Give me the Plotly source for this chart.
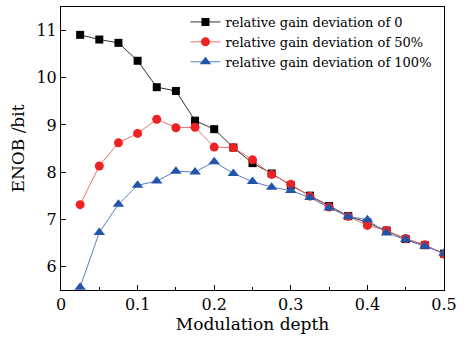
import plotly.graph_objects as go

x = [0.025, 0.05, 0.075, 0.1, 0.125, 0.15, 0.175, 0.2, 0.225, 0.25,
     0.275, 0.3, 0.325, 0.35, 0.375, 0.4, 0.425, 0.45, 0.475, 0.5]
gain0 = [10.91, 10.81, 10.74, 10.36, 9.80, 9.72, 9.09, 8.91, 8.52, 8.19,
         7.97, 7.72, 7.50, 7.28, 7.07, 6.93, 6.76, 6.58, 6.45, 6.27]
gain50 = [7.31, 8.13, 8.62, 8.82, 9.12, 8.94, 8.95, 8.53, 8.52, 8.26,
          7.95, 7.74, 7.49, 7.26, 7.06, 6.87, 6.76, 6.59, 6.46, 6.26]
gain100 = [5.56, 6.72, 7.32, 7.72, 7.81, 8.02, 8.00, 8.22, 7.97, 7.80,
           7.68, 7.61, 7.46, 7.24, 7.06, 6.99, 6.71, 6.57, 6.43, 6.28]
names = ["relative gain deviation of 0", "relative gain deviation of 50%",
         "relative gain deviation of 100%"]

font = "DejaVu Serif, serif"
fig = go.Figure()
fig.add_trace(go.Scatter(x=x, y=gain0, name=names[0], mode="lines+markers",
                         line=dict(color="#333333", width=1),
                         marker=dict(symbol="square", size=8, color="#000000")))
fig.add_trace(go.Scatter(x=x, y=gain50, name=names[1], mode="lines+markers",
                         line=dict(color="#f07070", width=1),
                         marker=dict(symbol="circle", size=9, color="#ee2222")))
fig.add_trace(go.Scatter(x=x, y=gain100, name=names[2], mode="lines+markers",
                         line=dict(color="#5b80c8", width=1),
                         marker=dict(symbol="triangle-up", size=10, color="#2255aa")))

fig.update_layout(
    width=472, height=342,
    margin=dict(l=61, r=28, t=7, b=52),
    paper_bgcolor="white", plot_bgcolor="white",
    font=dict(family=font, color="black", size=16),
    legend=dict(x=0.325, y=1.0, xanchor="left", yanchor="top",
                bgcolor="rgba(0,0,0,0)", font=dict(size=13),
                tracegroupgap=0, itemwidth=30),
    xaxis=dict(range=[0, 0.5], tickvals=[0, 0.1, 0.2, 0.3, 0.4, 0.5],
               ticktext=["0", "0.1", "0.2", "0.3", "0.4", "0.5"],
               ticks="inside", ticklen=5, tickcolor="black",
               minor=dict(dtick=0.05, tick0=0, ticks="inside", ticklen=3, tickcolor="black"),
               showline=True, linecolor="black", linewidth=1, mirror=True,
               showgrid=False, zeroline=False,
               title=dict(text="Modulation depth", standoff=2, font=dict(size=17))),
    yaxis=dict(range=[5.5, 11.5], tickvals=[6, 7, 8, 9, 10, 11],
               ticks="inside", ticklen=5, tickcolor="black",
               showline=True, linecolor="black", linewidth=1, mirror=True,
               showgrid=False, zeroline=False,
               title=dict(text="ENOB /bit", standoff=7, font=dict(size=17))),
)
fig.write_html("out.html")
